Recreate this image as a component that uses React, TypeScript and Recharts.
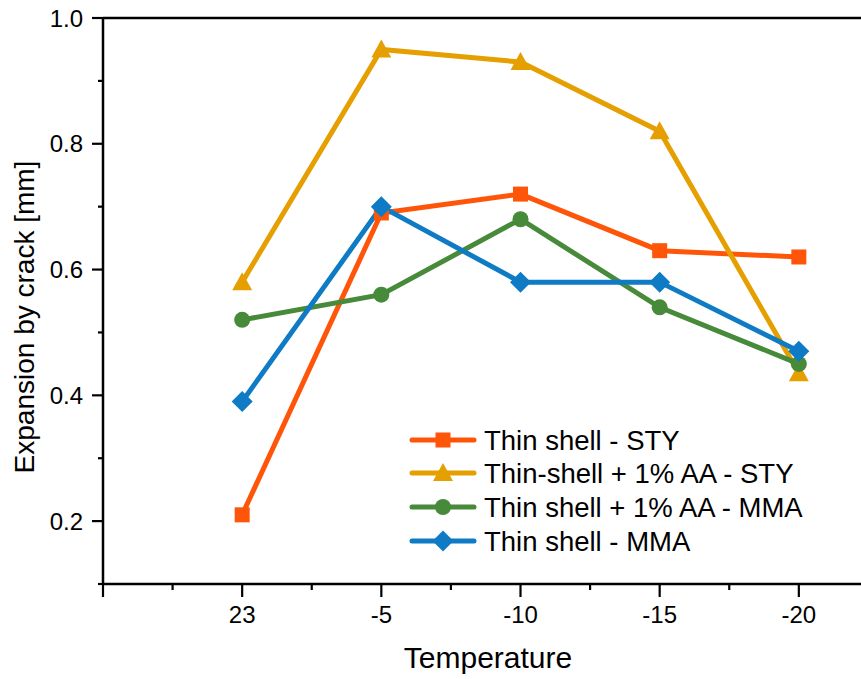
import React from 'react';
import { LineChart, Line, XAxis, YAxis, Legend, ReferenceLine } from 'recharts';

const categories = ['23', '-5', '-10', '-15', '-20'];
const thinShellSTY = [0.21, 0.69, 0.72, 0.63, 0.62];
const thinShellAASTY = [0.58, 0.95, 0.93, 0.82, 0.435];
const thinShellAAMMA = [0.52, 0.56, 0.68, 0.54, 0.45];
const thinShellMMA = [0.39, 0.70, 0.58, 0.58, 0.47];
const yTicks = [0.2, 0.4, 0.6, 0.8, 1.0];
const yMinorTicks = [0.1, 0.3, 0.5, 0.7, 0.9];

const data = categories.map((c, i) => ({
  pos: i + 1,
  label: c,
  sty: thinShellSTY[i],
  aasty: thinShellAASTY[i],
  aamma: thinShellAAMMA[i],
  mma: thinShellMMA[i],
}));

const FONT = '"Liberation Sans", Arial, sans-serif';

type Shape = 'square' | 'triangle' | 'circle' | 'diamond';

const series: { key: string; name: string; color: string; shape: Shape }[] = [
  { key: 'sty', name: 'Thin shell - STY', color: '#FF5509', shape: 'square' },
  { key: 'aasty', name: 'Thin-shell + 1% AA - STY', color: '#E69F00', shape: 'triangle' },
  { key: 'aamma', name: 'Thin shell + 1% AA - MMA', color: '#468A3A', shape: 'circle' },
  { key: 'mma', name: 'Thin shell - MMA', color: '#0E7BC4', shape: 'diamond' },
];

function Marker({ cx, cy, shape, color }: { cx: number; cy: number; shape: Shape; color: string }) {
  if (cx == null || cy == null) return null;
  switch (shape) {
    case 'square':
      return <rect x={cx - 7.5} y={cy - 7.5} width={15} height={15} fill={color} />;
    case 'triangle':
      return <polygon points={`${cx},${cy - 10} ${cx + 10},${cy + 8} ${cx - 10},${cy + 8}`} fill={color} />;
    case 'circle':
      return <circle cx={cx} cy={cy} r={8} fill={color} />;
    case 'diamond':
      return <polygon points={`${cx},${cy - 10.5} ${cx + 10.5},${cy} ${cx},${cy + 10.5} ${cx - 10.5},${cy}`} fill={color} />;
  }
  return null;
}

const xTickValues = [0, 0.5, 1, 1.5, 2, 2.5, 3, 3.5, 4, 4.5, 5, 5.5, 6];

function XTick(props: any) {
  const { x, y, payload } = props;
  const v = payload.value as number;
  const major = Number.isInteger(v);
  const idx = v - 1;
  const label = major && idx >= 0 && idx < categories.length ? categories[idx] : '';
  return (
    <g>
      <line x1={x} x2={x} y1={y} y2={y + (major ? 13 : 6)} stroke="#000" strokeWidth={2.2} />
      {label && (
        <text x={x} y={y + 39} textAnchor="middle" fontFamily={FONT} fontSize={24} fill="#000">
          {label}
        </text>
      )}
    </g>
  );
}

function YTick(props: any) {
  const { x, y, payload } = props;
  const v = payload.value as number;
  const major = yTicks.some((t) => Math.abs(t - v) < 1e-6);
  return (
    <g>
      <line x1={x - (major ? 11 : 5)} x2={x} y1={y} y2={y} stroke="#000" strokeWidth={2.2} />
      {major && (
        <text x={x - 20} y={y} dy="0.36em" textAnchor="end" fontFamily={FONT} fontSize={24} fill="#000">
          {v.toFixed(1)}
        </text>
      )}
    </g>
  );
}

function LegendContent() {
  const rows = [440, 473, 507, 541];
  return (
    <svg width={440} height={150} style={{ overflow: 'visible', display: 'block' }}>
      {series.map((s, i) => {
        const cy = rows[i] - 420;
        return (
          <g key={s.key}>
            <line x1={10} x2={72} y1={cy} y2={cy} stroke={s.color} strokeWidth={5} strokeLinecap="round" />
            <Marker cx={41} cy={cy} shape={s.shape} color={s.color} />
            <text x={82} y={cy} dy="0.36em" fontFamily={FONT} fontSize={27.5} fill="#000">
              {s.name}
            </text>
          </g>
        );
      })}
    </svg>
  );
}

export default function App() {
  const allYTicks = [...yMinorTicks, ...yTicks].sort((a, b) => a - b);
  return (
    <div style={{ position: 'fixed', left: 0, top: 0, width: 861, height: 679, overflow: 'hidden', background: '#fff' }}>
      <LineChart
        width={940}
        height={679}
        data={data}
        margin={{ top: 18, right: 2, bottom: 0, left: 0 }}
        style={{ fontFamily: FONT }}
      >
        <XAxis
          dataKey="pos"
          type="number"
          domain={[0, 6]}
          ticks={xTickValues}
          interval={0}
          height={95}
          tickSize={0}
          tickMargin={0}
          tickLine={false}
          axisLine={{ stroke: '#000', strokeWidth: 2.5 }}
          tick={<XTick />}
          allowDecimals
        />
        <YAxis
          type="number"
          domain={[0.1, 1.0]}
          ticks={allYTicks}
          interval={0}
          width={103}
          tickSize={0}
          tickMargin={0}
          tickLine={false}
          axisLine={{ stroke: '#000', strokeWidth: 2.5 }}
          tick={<YTick />}
          allowDataOverflow
        />
        <ReferenceLine y={1.0} stroke="#000" strokeWidth={2.5} />
        {series.map((s) => (
          <Line
            key={s.key}
            dataKey={s.key}
            name={s.name}
            stroke={s.color}
            strokeWidth={5}
            isAnimationActive={false}
            dot={(p: any) => <Marker key={`${s.key}-${p.index}`} cx={p.cx} cy={p.cy} shape={s.shape} color={s.color} />}
            activeDot={false}
          />
        ))}
        <Legend
          layout="horizontal"
          verticalAlign="middle"
          align="center"
          content={<LegendContent />}
          wrapperStyle={{ position: 'absolute', left: 402, top: 420, width: 440, height: 150 }}
        />
      </LineChart>
      <svg style={{ position: 'absolute', left: 0, top: 0, pointerEvents: 'none' }} width={861} height={679}>
        <text
          x={0}
          y={0}
          transform="translate(34,317) rotate(-90)"
          textAnchor="middle"
          fontFamily={FONT}
          fontSize={28}
          fill="#000"
        >
          Expansion by crack [mm]
        </text>
        <text x={488} y={668} textAnchor="middle" fontFamily={FONT} fontSize={30} fill="#000">
          Temperature
        </text>
      </svg>
    </div>
  );
}
